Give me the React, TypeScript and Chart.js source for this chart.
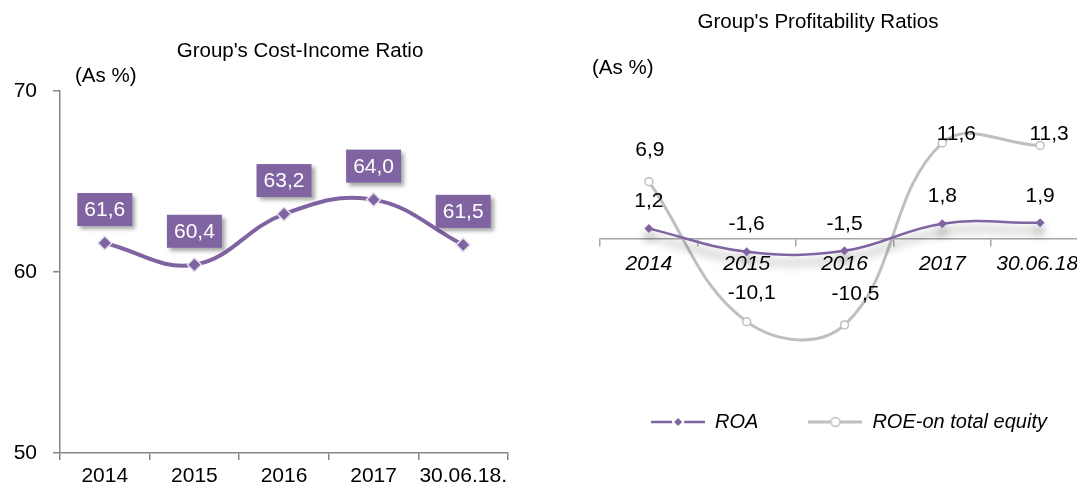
import React, { useEffect, useRef } from 'react';
import { Chart, registerables } from 'chart.js';

Chart.register(...registerables);

// ---------- data ----------
const ciCategories = ['2014', '2015', '2016', '2017', '30.06.18.'];
const ciValues = [61.6, 60.4, 63.2, 64.0, 61.5];
const ciTicks = [50, 60, 70];

const prCategories = ['2014', '2015', '2016', '2017', '30.06.18.'];
const roaValues = [1.2, -1.6, -1.5, 1.8, 1.9];
const roeValues = [6.9, -10.1, -10.5, 11.6, 11.3];

const ciTitle = "Group's Cost-Income Ratio";
const prTitle = "Group's Profitability Ratios";
const unitLabel = '(As %)';
const roaLabel = 'ROA';
const roeLabel = 'ROE-on total equity';

// ---------- styles ----------
const FONT = "'Liberation Sans', Arial, sans-serif";
const PURPLE = '#8064A2';
const GRAY = '#BFBFBF';
const AXIS = '#868686';
const ROA_LABEL_OFFSET = [0, -27];
const ROE_LABEL_OFFSETS = [[1, -31], [5, -28], [11, -31], [14, -9], [9, -11]];

const fmt = (v: number) => v.toFixed(1).replace('.', ',');

function headerPlugin(title: string, tx: number, ty: number, ux: number, uy: number) {
  return {
    id: 'header',
    afterDraw(chart: any) {
      const ctx = chart.ctx;
      ctx.save();
      ctx.fillStyle = '#000';
      ctx.font = `20.5px ${FONT}`;
      ctx.textBaseline = 'middle';
      ctx.textAlign = 'center';
      ctx.fillText(title, tx, ty);
      ctx.textAlign = 'left';
      ctx.fillText(unitLabel, ux, uy);
      ctx.restore();
    },
  };
}

const boxLabelPlugin = {
  id: 'boxLabels',
  afterDatasetsDraw(chart: any) {
    const ctx = chart.ctx;
    const meta = chart.getDatasetMeta(0);
    const data = chart.data.datasets[0].data as number[];
    meta.data.forEach((pt: any, i: number) => {
      const w = 55, h = 33;
      const cx = pt.x, cy = pt.y - 33.5;
      ctx.save();
      ctx.shadowColor = 'rgba(0,0,0,0.35)';
      ctx.shadowBlur = 4;
      ctx.shadowOffsetX = 3;
      ctx.shadowOffsetY = 3;
      ctx.fillStyle = PURPLE;
      ctx.fillRect(cx - w / 2, cy - h / 2, w, h);
      ctx.restore();
      ctx.save();
      ctx.fillStyle = '#fff';
      ctx.font = `21px ${FONT}`;
      ctx.textAlign = 'center';
      ctx.textBaseline = 'middle';
      ctx.fillText(fmt(data[i]), cx, cy + 1);
      ctx.restore();
    });
  },
};

const prLabelPlugin = {
  id: 'prLabels',
  afterDatasetsDraw(chart: any) {
    const ctx = chart.ctx;
    ctx.save();
    ctx.fillStyle = '#000';
    ctx.font = `21px ${FONT}`;
    ctx.textAlign = 'center';
    ctx.textBaseline = 'middle';
    const roaMeta = chart.getDatasetMeta(0);
    roaMeta.data.forEach((pt: any, i: number) => {
      ctx.fillText(fmt(roaValues[i]), pt.x + ROA_LABEL_OFFSET[0], pt.y + ROA_LABEL_OFFSET[1]);
    });
    const roeMeta = chart.getDatasetMeta(1);
    roeMeta.data.forEach((pt: any, i: number) => {
      const o = ROE_LABEL_OFFSETS[i];
      ctx.fillText(fmt(roeValues[i]), pt.x + o[0], pt.y + o[1]);
    });
    ctx.restore();
  },
};

const shadowPlugin = {
  id: 'roaShadow',
  beforeDatasetDraw(chart: any, args: any) {
    if (args.index === 0) {
      const ctx = chart.ctx;
      ctx.save();
      ctx.shadowColor = 'rgba(0,0,0,0.45)';
      ctx.shadowBlur = 10;
      ctx.shadowOffsetY = 8;
    }
  },
  afterDatasetDraw(chart: any, args: any) {
    if (args.index === 0) chart.ctx.restore();
  },
};

function makeIcon(color: string, kind: 'diamond' | 'circle') {
  const c = document.createElement('canvas');
  c.width = 54;
  c.height = 14;
  const g = c.getContext('2d')!;
  g.strokeStyle = color;
  g.lineWidth = kind === 'diamond' ? 2.5 : 3;
  g.beginPath();
  if (kind === 'diamond') {
    g.moveTo(0, 7);
    g.lineTo(21, 7);
    g.moveTo(33, 7);
    g.lineTo(54, 7);
  } else {
    g.moveTo(0, 7);
    g.lineTo(54, 7);
  }
  g.stroke();
  if (kind === 'diamond') {
    g.fillStyle = color;
    g.beginPath();
    g.moveTo(27, 3);
    g.lineTo(31, 7);
    g.lineTo(27, 11);
    g.lineTo(23, 7);
    g.closePath();
    g.fill();
  } else {
    g.fillStyle = '#fff';
    g.lineWidth = 1.5;
    g.beginPath();
    g.arc(27, 7, 4.5, 0, Math.PI * 2);
    g.fill();
    g.stroke();
  }
  return c;
}

function CostIncomeChart() {
  const ref = useRef<HTMLCanvasElement>(null);
  useEffect(() => {
    const chart = new Chart(ref.current!, {
      type: 'line',
      data: {
        labels: ciCategories,
        datasets: [
          {
            data: ciValues,
            borderColor: PURPLE,
            borderWidth: 4,
            tension: 0.4,
            fill: false,
            pointStyle: 'rectRot',
            pointRadius: 7,
            pointBackgroundColor: PURPLE,
            pointBorderColor: '#E4DFEC',
            pointBorderWidth: 1.5,
          },
        ],
      },
      options: {
        responsive: false,
        animation: false,
        layout: { padding: { top: 91, right: 32, bottom: 0, left: 0 } },
        plugins: {
          legend: { display: false },
          tooltip: { enabled: false },
        },
        scales: {
          x: {
            offset: true,
            grid: { offset: true, drawOnChartArea: false, drawTicks: true, tickLength: 7, color: AXIS, lineWidth: 1.5 },
            border: { color: AXIS, width: 1.5 },
            ticks: { color: '#000', font: { family: FONT, size: 21 }, padding: 4, maxRotation: 0, autoSkip: false },
            afterFit: (s: any) => { s.height = 33; },
          },
          y: {
            min: 50,
            max: 70,
            afterBuildTicks: (s: any) => { s.ticks = ciTicks.map((v) => ({ value: v })); },
            ticks: { color: '#000', font: { family: FONT, size: 21 }, padding: 16 },
            grid: { drawOnChartArea: false, drawTicks: true, tickLength: 7, color: AXIS, lineWidth: 1.5 },
            border: { color: AXIS, width: 1.5 },
            afterFit: (s: any) => { s.width = 60; },
          },
        },
      },
      plugins: [boxLabelPlugin, headerPlugin(ciTitle, 300, 51, 75, 76)],
    } as any);
    return () => chart.destroy();
  }, []);
  return (
    <canvas
      ref={ref}
      width={540}
      height={486}
      style={{ position: 'absolute', left: 0, top: 0, width: 540, height: 486 }}
    />
  );
}

function ProfitabilityChart() {
  const ref = useRef<HTMLCanvasElement>(null);
  useEffect(() => {
    const icons = [makeIcon(PURPLE, 'diamond'), makeIcon(GRAY, 'circle')];
    const chart = new Chart(ref.current!, {
      type: 'line',
      data: {
        labels: prCategories,
        datasets: [
          {
            label: roaLabel,
            data: roaValues,
            borderColor: PURPLE,
            borderWidth: 2.5,
            tension: 0.4,
            fill: false,
            pointStyle: 'rectRot',
            pointRadius: 4.5,
            pointBackgroundColor: PURPLE,
            pointBorderWidth: 0,
          },
          {
            label: roeLabel,
            data: roeValues,
            borderColor: GRAY,
            borderWidth: 3,
            tension: 0.4,
            fill: false,
            pointStyle: 'circle',
            pointRadius: 4,
            pointBackgroundColor: '#fff',
            pointBorderColor: GRAY,
            pointBorderWidth: 1.5,
          },
        ],
      },
      options: {
        responsive: false,
        animation: false,
        layout: { padding: { top: 115, right: 0, bottom: 44, left: 0 } },
        plugins: {
          tooltip: { enabled: false },
          legend: {
            position: 'bottom',
            labels: {
              usePointStyle: true,
              pointStyleWidth: 54,
              padding: 50,
              color: '#000',
              font: { family: FONT, size: 20, style: 'italic' },
              generateLabels: (c: any) => {
                const items = (Chart.defaults.plugins.legend.labels.generateLabels as any)(c);
                items.forEach((it: any, i: number) => { it.pointStyle = icons[i]; });
                return items;
              },
            },
          },
        },
        scales: {
          x: {
            position: { y: 0 },
            offset: true,
            grid: { offset: true, drawOnChartArea: false, drawTicks: true, tickLength: 7, color: '#A6A6A6', lineWidth: 1.5 },
            border: { color: '#A6A6A6', width: 1.5 },
            ticks: { color: '#000', font: { family: FONT, size: 21, style: 'italic' }, padding: 6, maxRotation: 0, autoSkip: false },
            afterFit: (s: any) => { s.height = 0; },
          },
          y: {
            position: 'left',
            min: -15,
            max: 15,
            grid: { display: false },
            ticks: { display: false },
            border: { display: false },
            afterFit: (s: any) => { s.width = 40; },
          },
          yR: {
            type: 'linear',
            position: 'right',
            grid: { display: false },
            ticks: { display: false },
            border: { display: false },
            afterFit: (s: any) => { s.width = 49; },
          },
        },
      },
      plugins: [shadowPlugin, prLabelPlugin, headerPlugin(prTitle, 258, 22, 32, 68)],
    } as any);
    return () => chart.destroy();
  }, []);
  return (
    <canvas
      ref={ref}
      width={578}
      height={486}
      style={{ position: 'absolute', left: 560, top: 0, width: 578, height: 486 }}
    />
  );
}

export default function App() {
  return (
    <div
      style={{
        position: 'fixed',
        left: 0,
        top: 0,
        width: 1077,
        height: 486,
        overflow: 'hidden',
        background: '#fff',
      }}
    >
      <CostIncomeChart />
      <ProfitabilityChart />
    </div>
  );
}
